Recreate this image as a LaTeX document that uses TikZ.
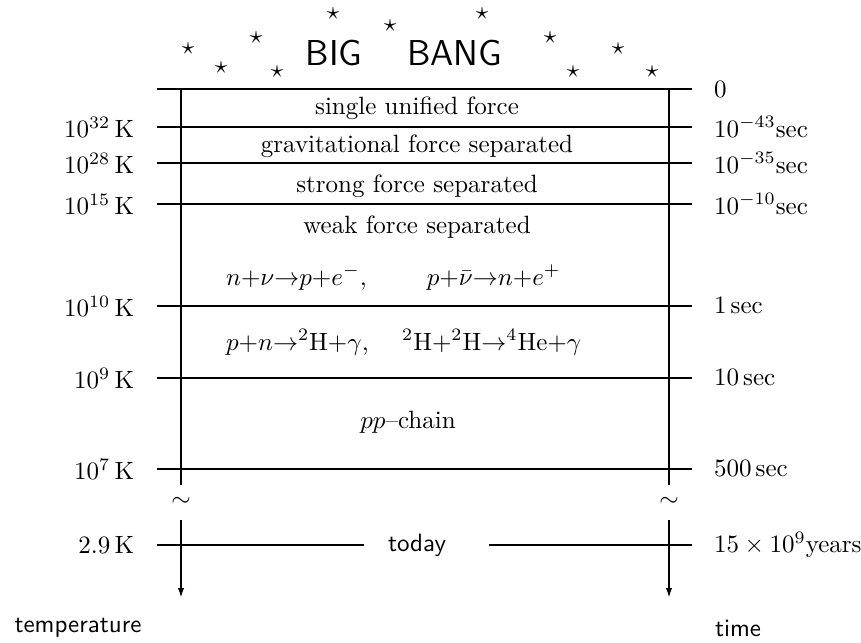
\documentclass[tikz,border=0pt]{standalone}
\usetikzlibrary{arrows.meta}
\begin{document}
\begin{tikzpicture}[x=0.4pt,y=-0.4pt,line width=0.8pt,
  tlab/.style={inner sep=0pt,anchor=east},
  rlab/.style={inner sep=0pt,anchor=west},
  mid/.style={inner sep=0pt},
  axname/.style={inner sep=0pt,font=\sffamily},
  star/.style={inner sep=0pt},
  axarrow/.style={-{Latex[length=4pt,width=2.6pt]}}]
\useasboundingbox (0,0) rectangle (861,642);
% horizontal levels
\foreach \n/\y in {a/89,b/127,c/163,d/204,e/306,f/378,g/469}{
  \coordinate (L\n) at (157,\y);
  \coordinate (R\n) at (692,\y);
  \draw (L\n) -- (R\n);
}
% vertical axes
\coordinate (lt) at (181,89);  \coordinate (lb) at (181,485);
\coordinate (lc) at (181,520); \coordinate (le) at (181,598);
\coordinate (rt) at (669,89);  \coordinate (rb) at (669,485);
\coordinate (rc) at (669,520); \coordinate (re) at (669,598);
\draw (lt) -- (lb);
\draw (rt) -- (rb);
\draw[axarrow] (lc) -- (le);
\draw[axarrow] (rc) -- (re);
\node[inner sep=0pt] (ltil) at (181,502) {$\sim$};
\node[inner sep=0pt] (rtil) at (669,502) {$\sim$};
% today
\coordinate (Lh) at (157,545); \coordinate (Rh) at (692,545);
\coordinate (hgL) at (364,545); \coordinate (hgR) at (489,545);
\draw (Lh) -- (hgL);
\draw (hgR) -- (Rh);
\node[mid,font=\sffamily] (today) at (417,545) {today};
% left labels
\node[tlab] (tb) at (135,127) {$10^{32}\,\mathrm{K}$};
\node[tlab] (tc) at (135,163) {$10^{28}\,\mathrm{K}$};
\node[tlab] (td) at (135,204) {$10^{15}\,\mathrm{K}$};
\node[tlab] (te) at (135,306) {$10^{10}\,\mathrm{K}$};
\node[tlab] (tf) at (135,378) {$10^{9}\,\mathrm{K}$};
\node[tlab] (tg) at (135,469) {$10^{7}\,\mathrm{K}$};
\node[tlab] (th) at (135,545) {$2.9\,\mathrm{K}$};
% right labels
\node[rlab] (sa) at (713,89) {$0$};
\node[rlab] (sb) at (713,127) {$10^{-43}$sec};
\node[rlab] (sc) at (713,163) {$10^{-35}$sec};
\node[rlab] (sd) at (713,204) {$10^{-10}$sec};
\node[rlab] (se) at (713,306) {$1\,$sec};
\node[rlab] (sf) at (713,378) {$10\,$sec};
\node[rlab] (sg) at (713,469) {$500\,$sec};
\node[rlab] (sh) at (713,545) {$15\times10^{9}$years};
% middle texts
\node[mid] (m1) at (417,108) {single unified force};
\node[mid] (m2) at (417,146) {gravitational force separated};
\node[mid] (m3) at (417,186) {strong force separated};
\node[mid] (m4) at (417,227) {weak force separated};
\node[mid,anchor=base west] (m5) at (225,285)
  {$n{+}\nu{\rightarrow}p{+}e^-$,\hspace{24pt}$p{+}\bar\nu{\rightarrow}n{+}e^+$};
\node[mid,anchor=base west] (m6) at (225,350)
  {$p{+}n{\rightarrow}{}^2\mathrm{H}{+}\gamma$, \quad ${}^2\mathrm{H}{+}{}^2\mathrm{H}{\rightarrow}{}^4\mathrm{He}{+}\gamma$};
\node[mid,anchor=base] (m7) at (408,428) {$pp$--chain};
% axis names
\node[axname] (tempname) at (78,628) {temperature};
\node[axname] (timename) at (738,628) {time};
% big bang
\node[inner sep=0pt,font=\sffamily\Large] (bb) at (404,53) {BIG\hspace{18pt}BANG};
\foreach \i/\x/\y in {1/188/49,2/221/68,3/256/38,4/277/72,5/333/14,6/390/26,7/482/14,8/550/38,9/573/72,10/618/49,11/652/72}{
  \node[star] (st\i) at (\x,\y) {$\star$};
}
\end{tikzpicture}
\end{document}
